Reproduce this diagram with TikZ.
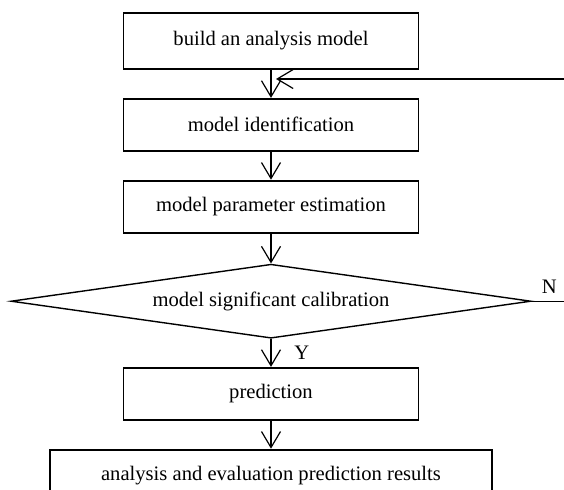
\documentclass[tikz,border=0pt]{standalone}
\usepackage{fontspec}
\setmainfont{Liberation Serif}
\usetikzlibrary{shapes.geometric,arrows.meta,positioning}

\begin{document}
\begin{tikzpicture}[x=0.5pt, y=-0.5pt, >={Straight Barb[length=8pt,width=9.5pt]},
    node distance=14pt, font=\fontsize{10.3}{12}\selectfont,
    box/.style={draw, line width=0.9pt, minimum width=147.5pt, minimum height=26pt},
    test/.style={diamond, draw, line width=0.7pt, aspect=7, inner sep=0pt,
        minimum width=260pt, minimum height=37pt}]
    \useasboundingbox (0,0) rectangle (564,489);
    \node [box, minimum height=28pt] at (271,41)   (A) {build an analysis model};
    \node [box] [below=of A]                       (B) {model identification};
    \node [box] [below=of B]                       (C) {model parameter estimation};
    \node [test] [below=15pt of C]                 (D) {model significant calibration};
    \node [box] [below=of D]                       (E) {prediction};
    \node [box, minimum width=221pt] [below=of E]  (F) {analysis and evaluation prediction results};
    \coordinate (back) at (572,79);
    \path[->, line width=0.6pt] (A) edge                        (B)
                                (B) edge                        (C)
                                (C) edge                        (D)
                                (D) edge node [right=8pt] {Y}   (E)
                                (E) edge                        (F);
    % N branch goes back above model identification
    \draw[->, line width=0.6pt, shorten >=2.5pt]
        (D.east) node [anchor=south west, xshift=1.4pt] {N}
        -| (back) -- (A.south |- back);
\end{tikzpicture}
\end{document}
